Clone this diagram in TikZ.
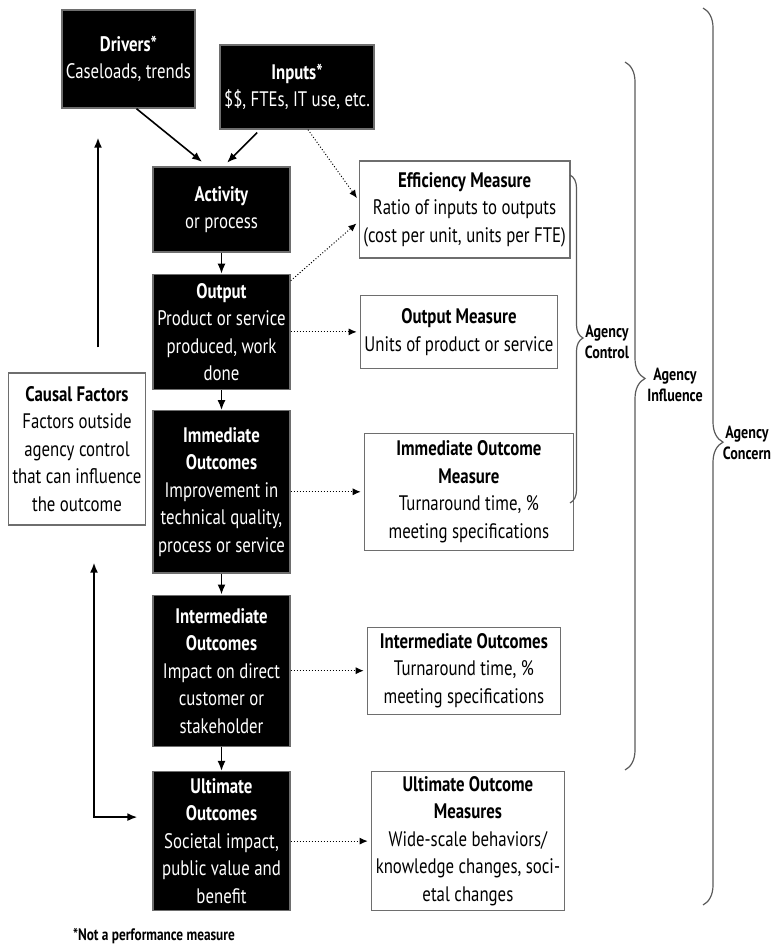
\documentclass[tikz,border=0pt]{standalone}
\usepackage{fontspec}
\setmainfont{PT Sans}[FakeStretch=0.8]
\usetikzlibrary{arrows.meta, positioning, decorations.pathreplacing}
\definecolor{BoxGray}{HTML}{6E6E6E}
\definecolor{BraceGray}{HTML}{5A5A5A}
\tikzset{
    every node/.style={font=\fontsize{10.5}{13.75}\selectfont},
    % Black stage box
    stage/.style={
        rectangle,
        draw=BoxGray,
        fill=black,
        text=white,
        line width=0.7pt,
        minimum width=68.5pt,
        align=center,
        inner sep=2pt
    },
    % Measure box
    measure/.style={
        rectangle,
        draw=BoxGray,
        fill=white,
        line width=0.7pt,
        align=center,
        inner sep=2pt
    },
    % Solid arrow
    arrow/.style={
        -{Latex[length=5pt,width=4pt]},
        line width=0.8pt,
        color=black
    },
    % Two-way arrow
    twoway/.style={
        {Latex[length=5pt,width=4pt]}-{Latex[length=5pt,width=4pt]},
        line width=0.8pt,
        color=black
    },
    % Dotted arrow
    dotarrow/.style={
        -{Latex[length=4pt,width=3.5pt]},
        densely dotted,
        line width=0.5pt,
        color=black
    },
    % Agency brace
    agencybrace/.style={
        decorate,
        draw=BraceGray,
        line width=0.6pt
    },
    % Brace label
    bracelabel/.style={
        font=\fontsize{8.8}{10.5}\selectfont\bfseries,
        align=center
    }
}

\begin{document}
\begin{tikzpicture}[x=0.5pt, y=-0.5pt]
    \useasboundingbox (0,0) rectangle (772,945);

    % Main chain
    \node (activity) [stage, minimum height=42.5pt] at (221.5,209.5) {\textbf{Activity}\\or process};
    \node (output) [stage, minimum height=57.5pt, below=10.5pt of activity] {\textbf{Output}\\Product or service\\produced, work\\done};
    \node (immediate) [stage, minimum height=81pt, below=10pt of output] {\textbf{Immediate}\\\textbf{Outcomes}\\Improvement in\\technical quality,\\process or service};
    \node (intermediate) [stage, minimum height=75.5pt, below=10.5pt of immediate] {\textbf{Intermediate}\\\textbf{Outcomes}\\Impact on direct\\customer or\\stakeholder};
    \node (ultimate) [stage, minimum height=69.5pt, below=12pt of intermediate] {\textbf{Ultimate}\\\textbf{Outcomes}\\Societal impact,\\public value and\\benefit};

    % Top boxes
    \node (drivers) [stage, minimum width=66.5pt, minimum height=49pt] at (128.5,59) {\textbf{Drivers*}\\Caseloads, trends};
    \node (inputs) [stage, minimum width=74pt, minimum height=42pt] at (297,87) {\textbf{Inputs*}\\\$\$, FTEs, IT use, etc.};

    % Measures
    \node (effmeasure) [measure, minimum width=100pt, minimum height=48.5pt, right=34pt of activity] {\textbf{Efficiency Measure}\\Ratio of inputs to outputs\\(cost per unit, units per FTE)};
    \node (outmeasure) [measure, minimum width=98pt, minimum height=36.5pt, right=34.5pt of output] {\textbf{Output Measure}\\Units of product or service};
    \node (immmeasure) [measure, minimum width=104.5pt, minimum height=58.5pt, right=36.5pt of immediate] {\textbf{Immediate Outcome}\\\textbf{Measure}\\Turnaround time, \%\\meeting specifications};
    \node (intmeasure) [measure, minimum width=96.5pt, minimum height=43.5pt, right=38pt of intermediate] {\textbf{Intermediate Outcomes}\\Turnaround time, \%\\meeting specifications};
    \node (ultmeasure) [measure, minimum width=96.5pt, minimum height=69.5pt, right=40pt of ultimate] {\textbf{Ultimate Outcome}\\\textbf{Measures}\\Wide-scale behaviors/\\knowledge changes, soci-\\etal changes};

    % Causal factors
    \node (causal) [measure, minimum width=65pt, minimum height=76pt] at (77,449) {\textbf{Causal Factors}\\Factors outside\\agency control\\that can influence\\the outcome};

    \draw [arrow, shorten >=3.5pt] ([xshift=4pt]drivers.south) -- ([xshift=-7pt]activity.north);
    \draw [arrow, shorten <=2pt, shorten >=2.5pt] ([xshift=-18.5pt]inputs.south) -- ([xshift=1pt]activity.north);
    \draw [arrow] (activity) -- (output);
    \draw [arrow] (output) -- (immediate);
    \draw [arrow] (immediate) -- (intermediate);
    \draw [arrow] (intermediate) -- (ultimate);

    % Dotted links to measures
    \draw [dotarrow, shorten >=1.5pt] ([xshift=5.5pt]inputs.south) -- ([yshift=4.5pt]effmeasure.west);
    \draw [dotarrow, shorten >=1.5pt] ([yshift=-3.5pt]output.north east) -- ([yshift=-6pt]effmeasure.west);
    \draw [dotarrow, shorten >=1.5pt] (output.east) -- (output.east -| outmeasure.west);
    \draw [dotarrow, shorten >=1.5pt] (immediate.east) -- (immediate.east -| immmeasure.west);
    \draw [dotarrow, shorten >=1.5pt] (intermediate.east) -- (intermediate.east -| intmeasure.west);
    \draw [dotarrow, shorten >=1.5pt] (ultimate.east) -- (ultimate.east -| ultmeasure.west);

    % Causal factor arrows
    \draw [arrow, shorten <=12.5pt, shorten >=14.5pt] ([xshift=10.5pt]causal.north) -- ([xshift=10.5pt]causal.north |- drivers.south);
    \draw [twoway, shorten <=18.5pt, shorten >=7.5pt] ([xshift=8.5pt]causal.south) |- ([yshift=12pt]ultimate.west);

    % Braces
    \draw [agencybrace, decoration={brace, amplitude=6.5pt, aspect=0.497}] (570,175) -- (570,503);
    \draw [agencybrace, decoration={brace, amplitude=10pt, aspect=0.447}] (625,62) -- (625,770);
    \draw [agencybrace, decoration={brace, amplitude=10pt, aspect=0.484}] (703,8) -- (703,905);
    \node (control) [bracelabel] at (607,342) {Agency\\Control};
    \node (influence) [bracelabel] at (675,385) {Agency\\Influence};
    \node (concern) [bracelabel] at (747,443) {Agency\\Concern};

    % Footnote
    \node (note) [anchor=west, font=\fontsize{8.3}{10}\selectfont\bfseries] at (66,936) {*Not a performance measure};
\end{tikzpicture}
\end{document}
